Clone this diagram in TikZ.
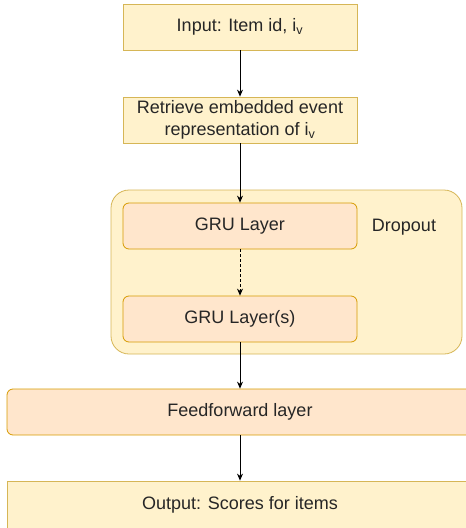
\documentclass[tikz,border=0pt]{standalone}
\usepackage{fontspec}
\setmainfont{Liberation Sans}
\usetikzlibrary{arrows.meta}
\definecolor{yfill}{HTML}{FFF2CC}
\definecolor{ydraw}{HTML}{D6B656}
\definecolor{ofill}{HTML}{FFE6CC}
\definecolor{odraw}{HTML}{D79B00}
\tikzset{
  labelfont/.style={font=\fontsize{18}{22}\selectfont, text=black!85},
  iobox/.style={draw=ydraw, fill=yfill, line width=0.8pt, minimum height=46pt, inner sep=0pt, align=center, labelfont},
  layerbox/.style={draw=odraw, fill=ofill, line width=0.8pt, rounded corners=6pt, minimum height=46pt, inner sep=0pt, labelfont},
  flow/.style={-{Stealth[length=7pt,width=6pt]}, line width=0.8pt}
}
\begin{document}
\begin{tikzpicture}[x=1pt, y=-1pt]
    \useasboundingbox (0,0) rectangle (466,528);

    % dropout block
    \draw[draw=ydraw, fill=yfill, line width=0.8pt, rounded corners=18pt] (111,190) rectangle (462,354);
    \node[labelfont] (drop) at (404,227) {Dropout};

    \node[iobox, minimum width=234pt] (input) at (240,27) {Input: Item id, i\textsubscript{v}};
    \node[iobox, minimum width=234pt] (embed) at (240,120) {Retrieve embedded event\\representation of i\textsubscript{v}};
    \node[layerbox, minimum width=234pt] (gru1) at (240,226) {GRU Layer};
    \node[layerbox, minimum width=234pt] (gru2) at (240,319) {GRU Layer(s)};
    \node[layerbox, minimum width=466pt] (ff) at (240,412) {Feedforward layer};
    \node[iobox, minimum width=466pt, minimum height=48pt] (out) at (240,505) {Output: Scores for items};

    \draw[flow] (input) -- (embed);
    \draw[flow] (embed) -- (gru1);
    \draw[flow, densely dashed] (gru1) -- (gru2);
    \draw[flow] (gru2) -- (ff);
    \draw[flow] (ff) -- (out);
\end{tikzpicture}
\end{document}
